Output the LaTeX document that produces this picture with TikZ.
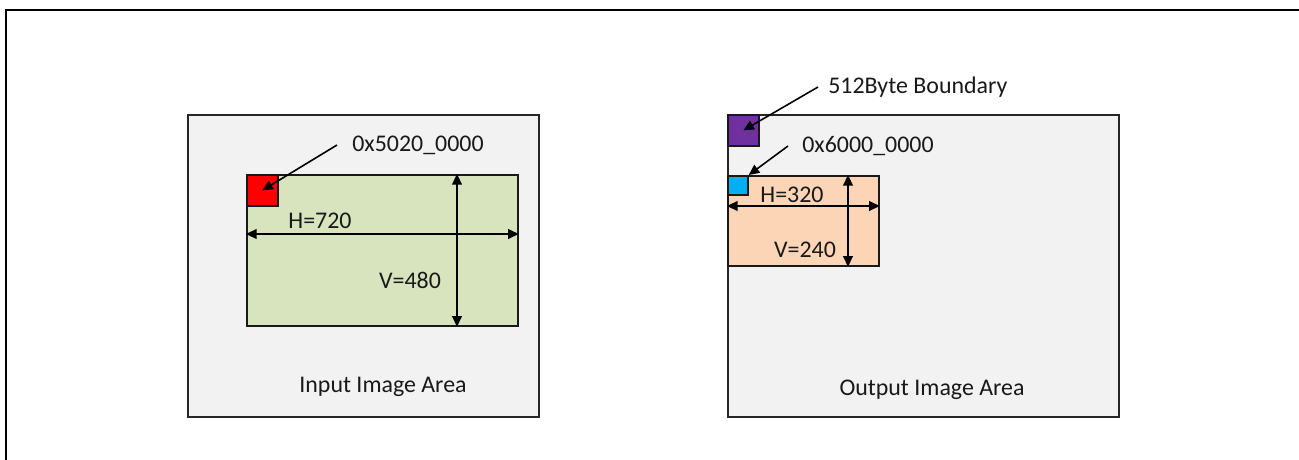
\documentclass[tikz,border=0pt]{standalone}
\usepackage{fontspec}
\setmainfont{Carlito}
\usetikzlibrary{arrows.meta}
\definecolor{areagray}{HTML}{F2F2F2}
\definecolor{imggreen}{HTML}{D7E4BD}
\definecolor{imgorange}{HTML}{FBD5B5}
\definecolor{bndpurple}{HTML}{7030A0}
\definecolor{addrcyan}{HTML}{00B0F0}
\begin{document}
\begin{tikzpicture}[x=0.02cm,y=-0.02cm,>={Triangle[length=6pt,width=5.5pt]},
  area/.style={draw=black!85,line width=1pt,fill=areagray,anchor=north west,inner sep=0pt},
  blk/.style={draw=black!90,line width=1pt,anchor=north west,inner sep=0pt},
  lbl/.style={font=\fontsize{13.6}{16}\selectfont,text=black!90,inner sep=0pt},
  ptr/.style={->,line width=0.9pt}]
\useasboundingbox (0,0) rectangle (1299,460);
\draw[line width=1.5pt] (6,460) -- (6,10) -- (1299,10);

% input side
\node[area,minimum width=7.02cm,minimum height=6.04cm] (inarea) at (187,114) {};
\node[blk,fill=imggreen,minimum width=5.42cm,minimum height=3.02cm] (inimg) at (246,174) {};
\node[blk,fill=red,minimum size=0.62cm] (inaddr) at (246,174) {};
\coordinate (vin) at (457,0);
\coordinate (hin) at (0,234);
\draw[<->,line width=1pt] (inimg.north -| vin) -- (inimg.south -| vin);
\draw[<->,line width=1pt] (inimg.west |- hin) -- (inimg.east |- hin);
\node[lbl] (hinlbl) at (320,221) {H=720};
\node[lbl] (vinlbl) at (410,280) {V=480};
\node[lbl,anchor=west] (addrin) at (352,145) {0x5020\_0000};
\draw[ptr] ([xshift=-0.3cm]addrin.west) -- (inaddr.center);
\node[lbl] (intitle) at (383,387) {Input Image Area};

% output side
\node[area,minimum width=7.82cm,minimum height=6.04cm] (outarea) at (727,114) {};
\node[blk,fill=bndpurple,minimum size=0.62cm] (bnd) at (727,114) {};
\node[blk,fill=imgorange,minimum width=3.02cm,minimum height=1.8cm] (outimg) at (727,175) {};
\node[blk,fill=addrcyan,minimum width=0.4cm,minimum height=0.38cm] (outaddr) at (727,175) {};
\coordinate (vout) at (848,0);
\coordinate (hout) at (0,206);
\draw[<->,line width=1pt] (outimg.north -| vout) -- (outimg.south -| vout);
\draw[<->,line width=1pt] (outimg.west |- hout) -- (outimg.east |- hout);
\node[lbl] (houtlbl) at (792,195) {H=320};
\node[lbl] (voutlbl) at (805,250) {V=240};
\node[lbl,anchor=west] (addrout) at (802,146) {0x6000\_0000};
\draw[ptr] ([xshift=-0.28cm]addrout.west) -- (outaddr.north east);
\node[lbl,anchor=west] (bndlbl) at (828,87) {512Byte Boundary};
\draw[ptr] ([xshift=-0.2cm]bndlbl.west) -- (bnd.center);
\node[lbl] (outtitle) at (932,390) {Output Image Area};
\end{tikzpicture}
\end{document}
